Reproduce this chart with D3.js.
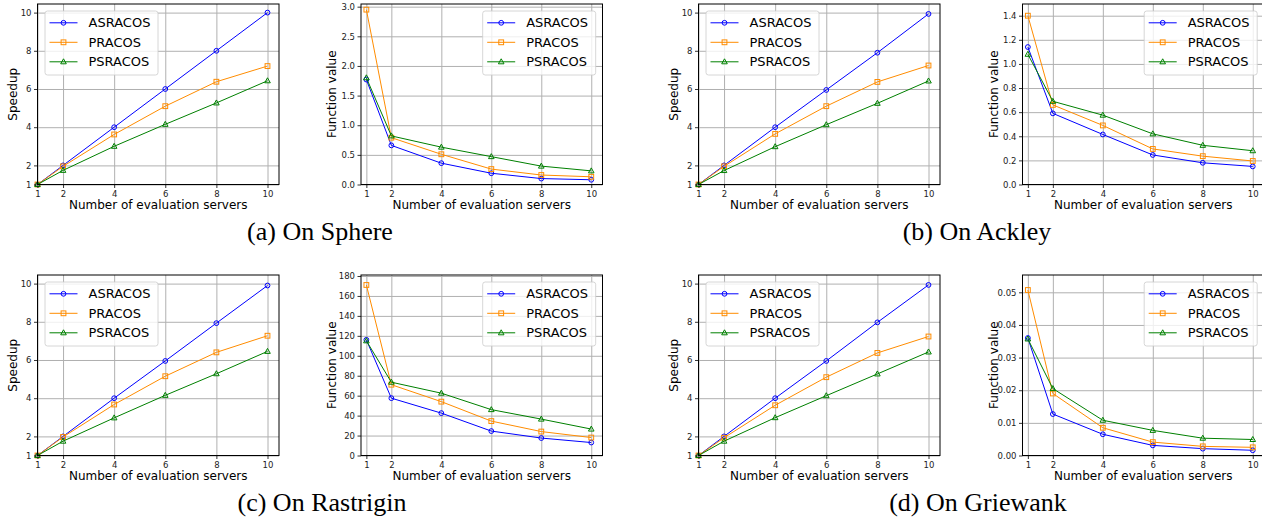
<!DOCTYPE html>
<html lang="en">
<meta charset="utf-8">
<head>
    <style>
        body { margin: 0; background: #fff; }
        svg { display: block; font-family: "DejaVu Sans", sans-serif; }
        .tick text { fill: #222; }
    </style>
    <script src="https://cdn.jsdelivr.net/npm/d3@7"></script>
</head>
<body>
</body>
<script>
    // data
    var servers = [1, 2, 4, 6, 8, 10];
    var seriesNames = ["ASRACOS", "PRACOS", "PSRACOS"];
    var seriesColors = ["#0000ff", "#ff8c00", "#008000"];
    var seriesMarkers = ["circle", "square", "triangle"];

    var speedupTicks = [1, 2, 4, 6, 8, 10];
    var serverTicks = [1, 2, 4, 6, 8, 10];

    var sphereSpeedup = [
        [1, 2, 4, 6, 8, 10],
        [1, 1.95, 3.62, 5.1, 6.38, 7.2],
        [1, 1.74, 3.0, 4.15, 5.27, 6.43]
    ];
    var sphereValue = [
        [1.77, 0.66, 0.36, 0.19, 0.10, 0.08],
        [2.95, 0.79, 0.51, 0.26, 0.16, 0.13],
        [1.80, 0.82, 0.63, 0.47, 0.31, 0.23]
    ];
    var sphereValueTicks = [0, 0.5, 1, 1.5, 2, 2.5, 3];

    var ackleySpeedup = [
        [1, 2, 4, 5.95, 7.9, 9.93],
        [1, 1.95, 3.65, 5.1, 6.37, 7.23],
        [1, 1.73, 2.98, 4.13, 5.25, 6.42]
    ];
    var ackleyValue = [
        [1.14, 0.59, 0.415, 0.245, 0.18, 0.15],
        [1.40, 0.66, 0.49, 0.295, 0.235, 0.195],
        [1.08, 0.69, 0.575, 0.42, 0.325, 0.28]
    ];
    var ackleyValueTicks = [0, 0.2, 0.4, 0.6, 0.8, 1.0, 1.2, 1.4];

    var rastriginSpeedup = [
        [1, 2, 4, 5.95, 7.93, 9.9],
        [1, 1.97, 3.67, 5.15, 6.4, 7.27],
        [1, 1.75, 2.97, 4.15, 5.28, 6.45]
    ];
    var rastriginValue = [
        [116, 57.5, 42.5, 24.5, 17.5, 13],
        [171, 71, 54, 34.5, 24, 18],
        [115, 73.5, 62.5, 46, 36.5, 26.5]
    ];
    var rastriginValueTicks = [0, 20, 40, 60, 80, 100, 120, 140, 160, 180];

    var griewankSpeedup = [
        [1, 2, 4, 5.95, 7.97, 9.93],
        [1, 1.93, 3.63, 5.1, 6.37, 7.23],
        [1, 1.75, 2.98, 4.13, 5.27, 6.42]
    ];
    var griewankValue = [
        [0.036, 0.0127, 0.0065, 0.0031, 0.0021, 0.0016],
        [0.0507, 0.019, 0.0085, 0.0041, 0.0028, 0.0025],
        [0.0357, 0.0205, 0.0108, 0.0077, 0.0053, 0.0049]
    ];
    var griewankValueTicks = [0, 0.01, 0.02, 0.03, 0.04, 0.05];

    var captions = ["(a) On Sphere", "(b) On Ackley", "(c) On Rastrigin", "(d) On Griewank"];

    // layout
    var svgWidth = 1262;
    var svgHeight = 517;
    var colX = [37.5, 361, 698.5, 1022.5];
    var rowY = [4, 275];
    var plotW = 241.5;
    var plotH = 180.5;

    var svg = d3.select("body")
        .append("svg")
        .attr("width", svgWidth)
        .attr("height", svgHeight);

    var panels = [
        { col: 0, row: 0, data: sphereSpeedup, ylab: "Speedup", xdom: [1, 10.45], ydom: [1, 10.45], yticks: speedupTicks, fmt: d3.format("d"), legend: "left" },
        { col: 1, row: 0, data: sphereValue, ylab: "Function value", xdom: [0.785, 10.45], ydom: [0, 3.045], yticks: sphereValueTicks, fmt: d3.format(".1f"), legend: "right" },
        { col: 2, row: 0, data: ackleySpeedup, ylab: "Speedup", xdom: [1, 10.45], ydom: [1, 10.45], yticks: speedupTicks, fmt: d3.format("d"), legend: "left" },
        { col: 3, row: 0, data: ackleyValue, ylab: "Function value", xdom: [0.785, 10.45], ydom: [0, 1.497], yticks: ackleyValueTicks, fmt: d3.format(".1f"), legend: "right" },
        { col: 0, row: 1, data: rastriginSpeedup, ylab: "Speedup", xdom: [1, 10.45], ydom: [1, 10.45], yticks: speedupTicks, fmt: d3.format("d"), legend: "left" },
        { col: 1, row: 1, data: rastriginValue, ylab: "Function value", xdom: [0.785, 10.45], ydom: [0, 181], yticks: rastriginValueTicks, fmt: d3.format("d"), legend: "right" },
        { col: 2, row: 1, data: griewankSpeedup, ylab: "Speedup", xdom: [1, 10.45], ydom: [1, 10.45], yticks: speedupTicks, fmt: d3.format("d"), legend: "left" },
        { col: 3, row: 1, data: griewankValue, ylab: "Function value", xdom: [0.785, 10.45], ydom: [0, 0.0553], yticks: griewankValueTicks, fmt: d3.format(".2f"), legend: "right" }
    ];

    function drawMarker(sel, type, color) {
        if (type === "circle") {
            sel.append("circle").attr("r", 2.4);
        } else if (type === "square") {
            sel.append("rect").attr("x", -2.4).attr("y", -2.4).attr("width", 4.8).attr("height", 4.8);
        } else {
            sel.append("path").attr("d", "M0,-3L2.8,2L-2.8,2Z");
        }
        sel.selectAll("*").attr("fill", "none").attr("stroke", color).attr("stroke-width", 1);
    }

    panels.forEach(function (p) {
        var g = svg.append("g")
            .attr("transform", "translate(" + colX[p.col] + "," + rowY[p.row] + ")");

        var x = d3.scaleLinear().domain(p.xdom).range([0, plotW]);
        var y = d3.scaleLinear().domain(p.ydom).range([plotH, 0]);

        // grid
        g.append("g")
            .attr("transform", "translate(0," + plotH + ")")
            .call(d3.axisBottom(x).tickValues(serverTicks).tickSize(-plotH).tickFormat(""))
            .call(function (a) { a.select(".domain").remove(); })
            .selectAll("line").attr("stroke", "#b0b0b0").attr("stroke-width", 1);
        g.append("g")
            .call(d3.axisLeft(y).tickValues(p.yticks).tickSize(-plotW).tickFormat(""))
            .call(function (a) { a.select(".domain").remove(); })
            .selectAll("line").attr("stroke", "#b0b0b0").attr("stroke-width", 1);

        // lines + markers
        p.data.forEach(function (vals, si) {
            var pts = servers.map(function (s, i) { return [s, vals[i]]; });
            g.append("path")
                .datum(pts)
                .attr("fill", "none")
                .attr("stroke", seriesColors[si])
                .attr("stroke-width", 1)
                .attr("d", d3.line().x(function (d) { return x(d[0]); }).y(function (d) { return y(d[1]); }));
            g.selectAll(".m" + si)
                .data(pts)
                .enter()
                .append("g")
                .attr("transform", function (d) { return "translate(" + x(d[0]) + "," + y(d[1]) + ")"; })
                .each(function () { drawMarker(d3.select(this), seriesMarkers[si], seriesColors[si]); });
        });

        // axes
        var xa = g.append("g")
            .attr("transform", "translate(0," + plotH + ")")
            .call(d3.axisBottom(x).tickValues(serverTicks).tickSizeInner(3.5).tickSizeOuter(0).tickPadding(2.5));
        var ya = g.append("g")
            .call(d3.axisLeft(y).tickValues(p.yticks).tickFormat(p.fmt).tickSizeInner(3.5).tickSizeOuter(0).tickPadding(2.5));
        [xa, ya].forEach(function (a) {
            a.select(".domain").remove();
            a.selectAll("text").attr("font-size", 8.5).attr("font-family", "DejaVu Sans");
            a.selectAll("line").attr("stroke", "#000").attr("stroke-width", 0.8);
        });

        // frame
        g.append("rect")
            .attr("width", plotW).attr("height", plotH)
            .attr("fill", "none").attr("stroke", "#000").attr("stroke-width", 1);

        // axis labels
        g.append("text")
            .attr("x", plotW / 2).attr("y", plotH + 24)
            .attr("text-anchor", "middle").attr("font-size", 12)
            .text("Number of evaluation servers");
        var yLabX = p.legend === "left" ? -21 : -25;
        g.append("text")
            .attr("transform", "translate(" + yLabX + "," + (plotH / 2) + ") rotate(-90)")
            .attr("text-anchor", "middle").attr("font-size", 12)
            .text(p.ylab);

        // legend
        var lw = 113, lh = 64;
        var lx = p.legend === "left" ? 7.5 : plotW - 6.8 - lw;
        var lg = g.append("g").attr("transform", "translate(" + lx + ",7)");
        lg.append("rect")
            .attr("width", lw).attr("height", lh).attr("rx", 2.5)
            .attr("fill", "#fff").attr("fill-opacity", 0.8)
            .attr("stroke", "#cccccc").attr("stroke-width", 0.8);
        seriesNames.forEach(function (name, si) {
            var ry = 11.8 + si * 19.5;
            lg.append("line")
                .attr("x1", 4.5).attr("x2", 32.5).attr("y1", ry).attr("y2", ry)
                .attr("stroke", seriesColors[si]).attr("stroke-width", 1);
            var mk = lg.append("g").attr("transform", "translate(18.5," + ry + ")");
            drawMarker(mk, seriesMarkers[si], seriesColors[si]);
            lg.append("text")
                .attr("x", 43.5).attr("y", ry)
                .attr("dy", "0.36em")
                .attr("font-size", 13)
                .text(name);
        });
    });

    // captions
    var capX = [320, 977, 322, 978];
    var capY = [240, 240, 511, 511];
    captions.forEach(function (c, i) {
        svg.append("text")
            .attr("x", capX[i]).attr("y", capY[i])
            .attr("text-anchor", "middle")
            .attr("font-family", "Liberation Serif, Times New Roman, serif")
            .attr("font-size", 26)
            .text(c);
    });
</script>
</html>
